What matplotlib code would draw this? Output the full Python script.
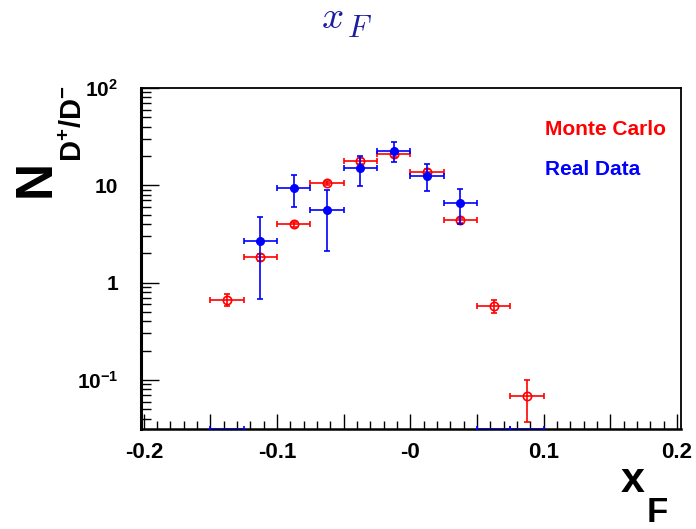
import numpy as np
import matplotlib
matplotlib.use("Agg")
import matplotlib.pyplot as plt
from matplotlib.ticker import FixedLocator, NullFormatter

plt.rcParams['font.family'] = ['Liberation Sans', 'DejaVu Sans']
plt.rcParams['mathtext.fontset'] = 'custom'
plt.rcParams['mathtext.rm'] = 'Liberation Sans:bold'
plt.rcParams['mathtext.bf'] = 'Liberation Sans:bold'
plt.rcParams['mathtext.it'] = 'Liberation Sans:bold'

# ---- data ----
bin_centers = [-0.1375, -0.1125, -0.0875, -0.0625, -0.0375, -0.0125, 0.0125, 0.0375, 0.0625, 0.0875]
bin_halfwidth = 0.0125

mc_values = [0.66, 1.82, 3.99, 10.6, 17.7, 21.0, 13.8, 4.36, 0.575, 0.068]
mc_err_low = [0.085, 0.15, 0.25, 0.5, 1.2, 1.3, 0.9, 0.3, 0.09, 0.031]
mc_err_high = [0.10, 0.15, 0.25, 0.5, 1.2, 1.3, 0.9, 0.3, 0.09, 0.031]

data_values = [0.0, 2.67, 9.31, 5.62, 15.1, 22.5, 12.6, 6.63, 0.0, 0.0]
data_err_low = [0.0, 1.99, 3.38, 3.52, 5.2, 5.2, 3.93, 2.67, 0.0, 0.0]
data_err_high = [0.0, 2.04, 3.39, 3.41, 5.1, 5.5, 4.0, 2.62, 0.0, 0.0]

x_ticks = [-0.2, -0.15, -0.1, -0.05, 0.0, 0.05, 0.1, 0.15, 0.2]
x_tick_labels = ['-0.2', '', '-0.1', '', '-0', '', '0.1', '', '0.2']
y_ticks = [0.1, 1, 10, 100]
y_tick_labels = [r'10$^{-1}$', '1', '10', r'10$^{2}$']

xlim = (-0.2025, 0.203)
ylim = (0.0313, 100)

W, H = 696, 529
fig = plt.figure(figsize=(W / 100, H / 100), dpi=100)
ax = fig.add_axes([140.5 / W, 1 - 429 / H, (681 - 140.5) / W, (429 - 88) / H])
ax.set_yscale('log')
ax.set_xlim(*xlim)
ax.set_ylim(*ylim)

red = '#ff0000'
blue = '#0000ff'

x = np.array(bin_centers)
mc = np.array(mc_values)
ax.errorbar(x, mc, xerr=bin_halfwidth, yerr=[mc_err_low, mc_err_high], fmt='o',
            mfc='none', mec=red, ecolor=red, ms=6, mew=1.2, elinewidth=1.2,
            capsize=2.2, capthick=1.2, zorder=3)

dv = np.array(data_values)
nz = dv > 0
ax.errorbar(x[nz], dv[nz], xerr=bin_halfwidth,
            yerr=[np.array(data_err_low)[nz], np.array(data_err_high)[nz]], fmt='o',
            mfc=blue, mec=blue, ecolor=blue, ms=5.5, elinewidth=1.2,
            capsize=2.2, capthick=1.2, zorder=4)
# empty bins drawn on the lower edge, as ROOT does
ax.errorbar(x[~nz], np.full((~nz).sum(), ylim[0]), xerr=bin_halfwidth, fmt='none',
            ecolor=blue, elinewidth=1.2, capsize=2.2, capthick=1.2, zorder=4)

# ticks
ax.xaxis.set_major_locator(FixedLocator(x_ticks))
ax.set_xticklabels(x_tick_labels)
ax.xaxis.set_minor_locator(FixedLocator(np.round(np.arange(-0.2, 0.2001, 0.01), 3)))
ax.yaxis.set_major_locator(FixedLocator(y_ticks))
ax.set_yticklabels(y_tick_labels)
minor_y = [m * 10.0 ** e for e in range(-2, 2) for m in range(2, 10)]
ax.yaxis.set_minor_locator(FixedLocator(minor_y))
ax.yaxis.set_minor_formatter(NullFormatter())

ax.tick_params(axis='x', which='major', direction='in', length=11, width=1.0,
               labelsize=16, pad=9, top=False)
ax.tick_params(axis='x', which='minor', direction='in', length=6, width=1.0, top=False)
ax.tick_params(axis='y', which='major', direction='in', length=13, width=1.0,
               labelsize=15, pad=16, right=False)
ax.tick_params(axis='y', which='minor', direction='in', length=7, width=1.0, right=False)
for lab in ax.get_xticklabels() + ax.get_yticklabels():
    lab.set_fontweight('bold')

ax.spines['left'].set_linewidth(2.2)
ax.spines['bottom'].set_linewidth(1.8)
ax.spines['top'].set_linewidth(1.3)
ax.spines['right'].set_linewidth(1.3)

# title  x_F
title_color = '#1c1ca0'
fig.text(321 / W, 1 - 28 / H, r'$x$', fontsize=28, math_fontfamily='cm',
         color=title_color, ha='left', va='baseline')
fig.text(347 / W, 1 - 37 / H, r'$F$', fontsize=22, math_fontfamily='cm',
         color=title_color, ha='left', va='baseline')

# y label  N_{D+/D-}
fig.text(36 / W, 1 - 178 / H, 'N', fontsize=37, fontweight='bold', rotation=90,
         ha='center', va='center')
fig.text(74 / W, 1 - 162 / H, r'$\mathbf{D^{+}/D^{-}}$', fontsize=21, rotation=90,
         ha='center', va='bottom')

# x label  x_F
fig.text(621 / W, 1 - 492 / H, 'x', fontsize=31, fontweight='bold',
         ha='left', va='baseline')
fig.text(647 / W, 1 - 522 / H, 'F', fontsize=25, fontweight='bold',
         ha='left', va='baseline')

# legend texts
fig.text(545 / W, 1 - 135 / H, 'Monte Carlo', fontsize=15, fontweight='bold',
         color=red, ha='left', va='baseline')
fig.text(545 / W, 1 - 175 / H, 'Real Data', fontsize=15, fontweight='bold',
         color=blue, ha='left', va='baseline')

fig.savefig('out.png', dpi=100)
